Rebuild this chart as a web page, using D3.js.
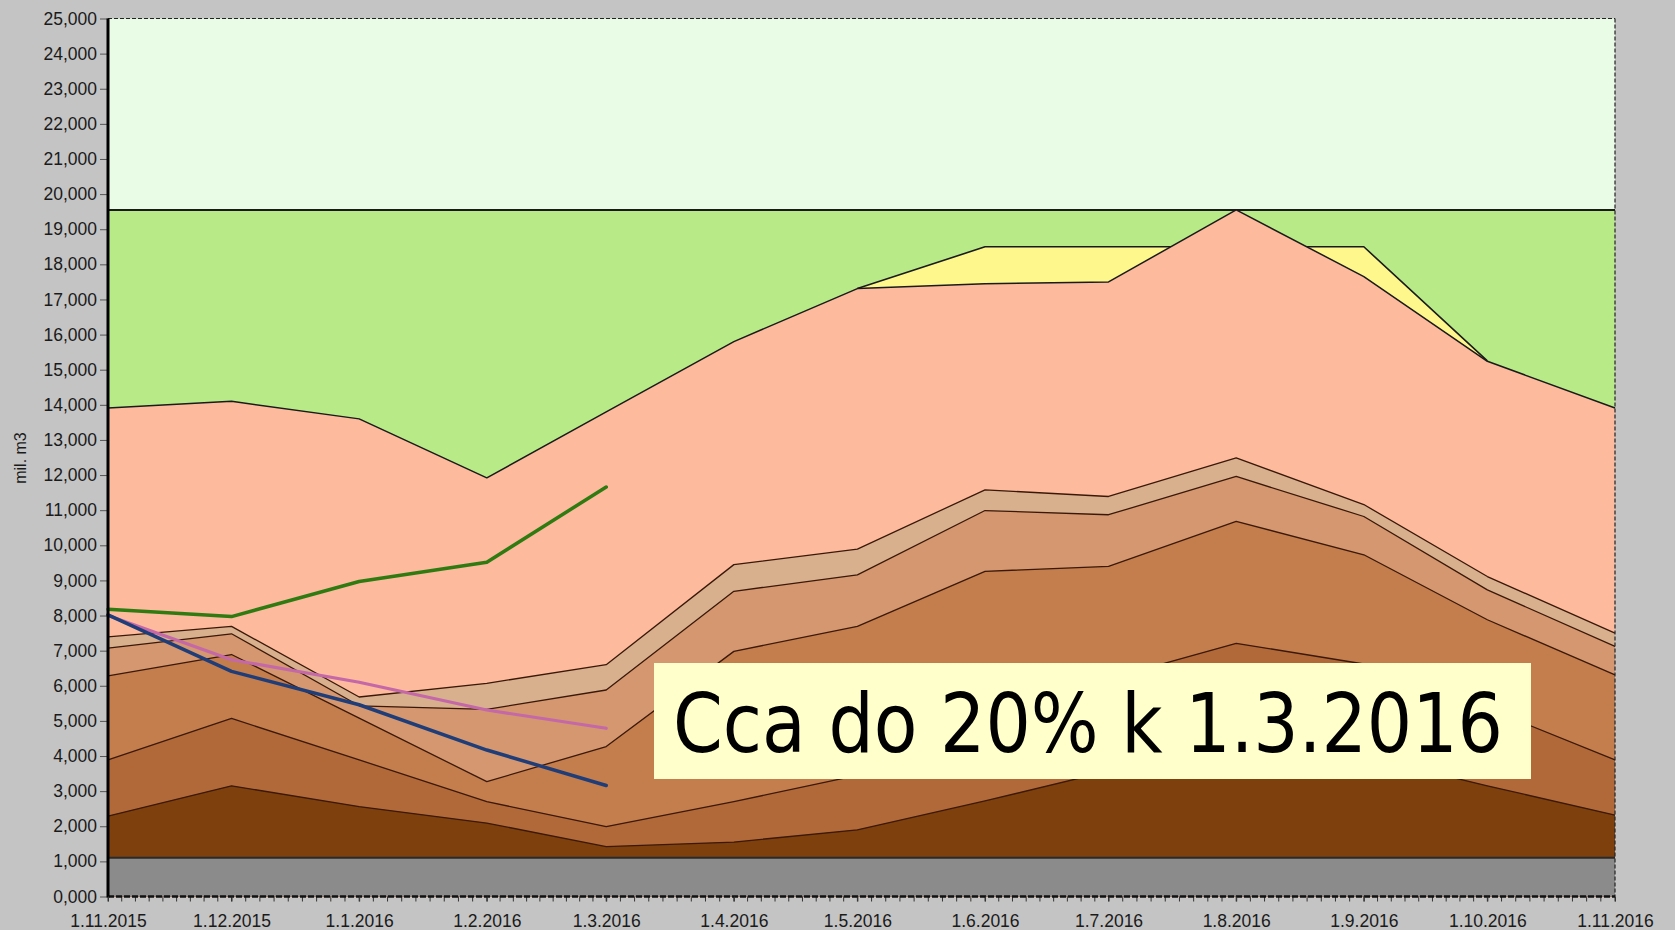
<!DOCTYPE html>
<html><head><meta charset="utf-8">
<script src="https://cdn.jsdelivr.net/npm/d3@7"></script>
<style>html,body{margin:0;padding:0;background:#c4c4c4;} svg{display:block}</style>
</head><body><svg id="c" width="1675" height="930"></svg>
<script>
// ---- data (mil. m3) ----
const monthStarts = ["2015-11-01","2015-12-01","2016-01-01","2016-02-01","2016-03-01","2016-04-01","2016-05-01","2016-06-01","2016-07-01","2016-08-01","2016-09-01","2016-10-01","2016-11-01"];
const capacityTop  = [19550,19550,19550,19550,19550,19550,19550,19550,19550,19550,19550,19550,19550];
const yellowLevel  = [null,null,null,null,null,null,17310,18500,18500,18500,18500,15250,null];
const salmonLevel  = [13910,14100,13600,11920,13800,15800,17310,17450,17500,19550,17650,15240,13910];
const tanLevel     = [7390,7690,5680,6070,6600,9450,9890,11580,11390,12490,11160,9110,7500];
const lightBrownLevel = [7070,7480,5430,5330,5880,8690,9160,10990,10870,11960,10820,8730,7120];
const brownLevel   = [6280,6890,5080,3270,4270,6980,7690,9260,9400,10680,9730,7880,6310];
const darkBrownLevel = [3890,5070,3890,2700,1990,2700,3450,5000,6200,7210,6620,5360,3890];
const deepBrownLevel = [2290,3150,2560,2090,1420,1550,1900,2720,3570,4400,4000,3150,2320];
const cushionGas   = [1100,1100,1100,1100,1100,1100,1100,1100,1100,1100,1100,1100,1100];
const greenLine    = [8180,7970,8970,9520,11660];
const pinkLine     = [8000,6740,6100,5310,4790];
const blueLine     = [8020,6410,5460,4170,3160];
const yTicks = d3.range(0, 25001, 1000);
const boxText = "Cca do 20% k 1.3.2016";
const yAxisTitle = "mil. m3";

// ---- setup ----
const dates = monthStarts.map(s => new Date(s + "T00:00:00Z"));
const svg = d3.select("#c");
const L = 108, R = 1615, T = 18.5, B = 896.5;
const x = d3.scaleUtc().domain([dates[0], dates[dates.length-1]]).range([L, R]);
const y = d3.scaleLinear().domain([0, 25000]).range([B, T]);

svg.append("rect").attr("width",1675).attr("height",930).attr("fill","#c4c4c4");
svg.append("rect").attr("x",L).attr("y",T).attr("width",R-L).attr("height",B-T).attr("fill","#e8fce6");

function layer(vals, fill, stroke, sw){
  const pts = dates.map((d,i)=>({d, v: vals[i]}));
  const area = d3.area().defined(p=>p.v!=null).x(p=>x(p.d)).y0(y(0)).y1(p=>y(p.v));
  const line = d3.line().defined(p=>p.v!=null).x(p=>x(p.d)).y(p=>y(p.v));
  svg.append("path").datum(pts).attr("d",area).attr("fill",fill);
  svg.append("path").datum(pts).attr("d",line).attr("fill","none").attr("stroke",stroke).attr("stroke-width",sw).attr("stroke-linejoin","round");
}
layer(capacityTop, "#b8eb88", "#1a1a1a", 2);
layer(yellowLevel, "#fdf78c", "#1a1a1a", 1.6);
layer(salmonLevel, "#fdba9c", "#1a1a1a", 1.5);
layer(tanLevel, "#d8b08e", "#3a1808", 1.3);
layer(lightBrownLevel, "#d4976f", "#3a1808", 1.3);
layer(brownLevel, "#c47d4c", "#3a1808", 1.3);
layer(darkBrownLevel, "#b2693a", "#3a1808", 1.3);
layer(deepBrownLevel, "#7e400d", "#3a1808", 1.3);
layer(cushionGas, "#8b8b8b", "#2a2a2a", 2);

function trend(vals, color, w){
  const line = d3.line().x((v,i)=>x(dates[i])).y(v=>y(v));
  svg.append("path").datum(vals).attr("d",line).attr("fill","none")
    .attr("stroke",color).attr("stroke-width",w).attr("stroke-linejoin","round").attr("stroke-linecap","round");
}
trend(greenLine, "#2f7b12", 3.5);
trend(pinkLine, "#c468a8", 3.2);
trend(blueLine, "#1f3d78", 3.5);

// text box
svg.append("rect").attr("x",654).attr("y",663).attr("width",877).attr("height",116).attr("fill","#ffffcc");
svg.append("text").attr("x",673).attr("y",752).attr("font-family","'DejaVu Sans', Verdana, sans-serif")
  .attr("font-size",82).attr("fill","#000").attr("textLength",830).attr("lengthAdjust","spacingAndGlyphs").text(boxText);

// frame
svg.append("line").attr("x1",L).attr("x2",R).attr("y1",T).attr("y2",T).attr("stroke","#222").attr("stroke-width",1.2).attr("stroke-dasharray","4,2");
svg.append("line").attr("x1",R).attr("x2",R).attr("y1",T).attr("y2",B).attr("stroke","#222").attr("stroke-width",1.2).attr("stroke-dasharray","4,2");

// minor ticks bottom
const minor = [];
for (let i=0;i<dates.length-1;i++){
  const a=+dates[i], b=+dates[i+1];
  for (let k=0;k<9;k++) minor.push(new Date(a+(b-a)*k/9));
}
minor.push(dates[dates.length-1]);
svg.append("g").selectAll("line").data(minor).join("line")
  .attr("x1",d=>x(d)).attr("x2",d=>x(d)).attr("y1",B).attr("y2",B+5).attr("stroke","#333").attr("stroke-width",1);
svg.append("line").attr("x1",L).attr("x2",R).attr("y1",B).attr("y2",B).attr("stroke","#111").attr("stroke-width",2.5).attr("stroke-dasharray","6,2");

// axes
const fmt = d3.format(",");
const yAxis = svg.append("g").attr("transform",`translate(${L},0)`)
  .call(d3.axisLeft(y).tickValues(yTicks).tickFormat(v => v===0 ? "0,000" : fmt(v)).tickSize(8).tickPadding(3));
yAxis.select(".domain").remove();
yAxis.selectAll("line").attr("stroke","#555");
yAxis.selectAll("text").attr("font-family","'Liberation Sans', Arial, sans-serif").attr("font-size",17.5).attr("fill","#1a1a1a");
svg.append("line").attr("x1",L).attr("x2",L).attr("y1",T).attr("y2",B+1).attr("stroke","#000").attr("stroke-width",3);

const xAxis = svg.append("g").attr("transform",`translate(0,${B})`)
  .call(d3.axisBottom(x).tickValues(dates).tickFormat(d3.utcFormat("%-d.%-m.%Y")).tickSize(5).tickPadding(13));
xAxis.select(".domain").remove();
xAxis.selectAll("line").attr("stroke","#333");
xAxis.selectAll("text").attr("font-family","'Liberation Sans', Arial, sans-serif").attr("font-size",17.5).attr("fill","#1a1a1a");

svg.append("text").attr("transform","translate(26,458) rotate(-90)").attr("text-anchor","middle")
  .attr("font-family","'Liberation Sans', Arial, sans-serif").attr("font-size",16).attr("fill","#1a1a1a").text(yAxisTitle);
</script></body></html>
